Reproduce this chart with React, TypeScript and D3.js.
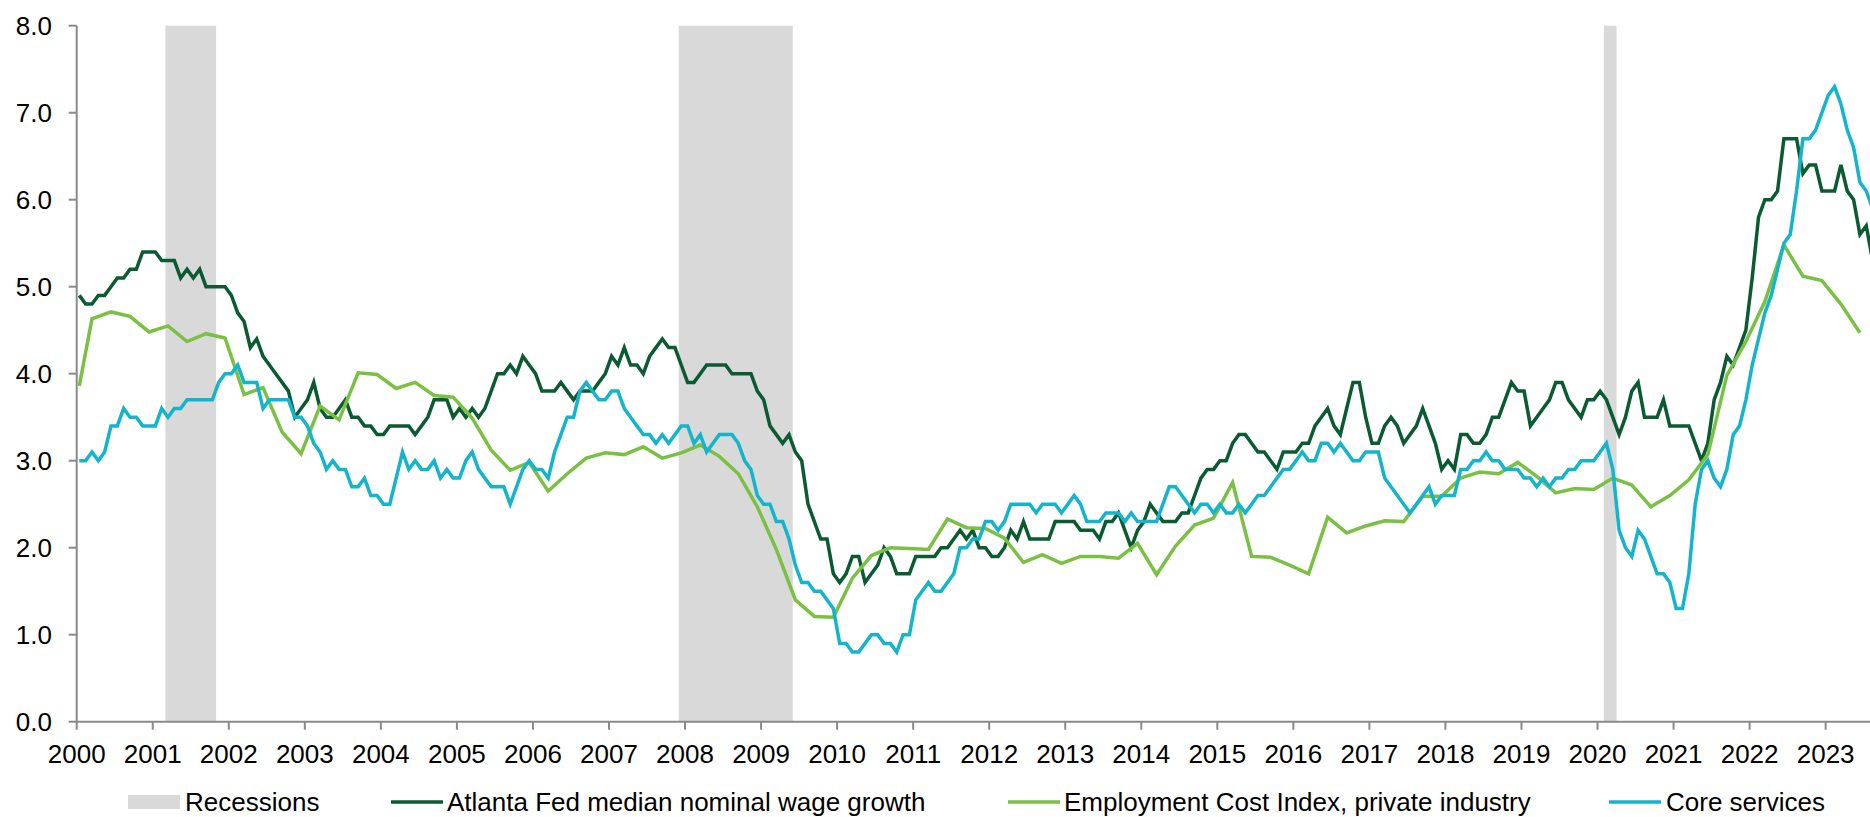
import React from "react";
import * as d3 from "d3";

// ---------- DATA ----------
// Monthly, starting Jan 2000
const atlantaFed: number[] = [
  4.9, 4.8, 4.8, 4.9, 4.9, 5.0, 5.1, 5.1, 5.2, 5.2, 5.4, 5.4,
  5.4, 5.3, 5.3, 5.3, 5.1, 5.2, 5.1, 5.2, 5.0, 5.0, 5.0, 5.0,
  4.9, 4.7, 4.6, 4.3, 4.4, 4.2, 4.1, 4.0, 3.9, 3.8, 3.5, 3.6,
  3.7, 3.9, 3.6, 3.5, 3.5, 3.6, 3.7, 3.5, 3.5, 3.4, 3.4, 3.3,
  3.3, 3.4, 3.4, 3.4, 3.4, 3.3, 3.4, 3.5, 3.7, 3.7, 3.7, 3.5,
  3.6, 3.5, 3.6, 3.5, 3.6, 3.8, 4.0, 4.0, 4.1, 4.0, 4.2, 4.1,
  4.0, 3.8, 3.8, 3.8, 3.9, 3.8, 3.7, 3.8, 3.8, 3.8, 3.9, 4.0,
  4.2, 4.1, 4.3, 4.1, 4.1, 4.0, 4.2, 4.3, 4.4, 4.3, 4.3, 4.1,
  3.9, 3.9, 4.0, 4.1, 4.1, 4.1, 4.1, 4.0, 4.0, 4.0, 4.0, 3.8,
  3.7, 3.4, 3.3, 3.2, 3.3, 3.1, 3.0, 2.5, 2.3, 2.1, 2.1, 1.7,
  1.6, 1.7, 1.9, 1.9, 1.6, 1.7, 1.8, 2.0, 1.9, 1.7, 1.7, 1.7,
  1.9, 1.9, 1.9, 1.9, 2.0, 2.0, 2.1, 2.2, 2.1, 2.2, 2.0, 2.0,
  1.9, 1.9, 2.0, 2.2, 2.1, 2.3, 2.1, 2.1, 2.1, 2.1, 2.3, 2.3,
  2.3, 2.3, 2.2, 2.2, 2.2, 2.1, 2.3, 2.3, 2.4, 2.2, 2.0, 2.2,
  2.3, 2.5, 2.4, 2.3, 2.3, 2.3, 2.4, 2.4, 2.6, 2.8, 2.9, 2.9,
  3.0, 3.0, 3.2, 3.3, 3.3, 3.2, 3.1, 3.1, 3.0, 2.9, 3.1, 3.1,
  3.1, 3.2, 3.2, 3.4, 3.5, 3.6, 3.4, 3.3, 3.6, 3.9, 3.9, 3.5,
  3.2, 3.2, 3.4, 3.5, 3.4, 3.2, 3.3, 3.4, 3.6, 3.4, 3.2, 2.9,
  3.0, 2.9, 3.3, 3.3, 3.2, 3.2, 3.3, 3.5, 3.5, 3.7, 3.9, 3.8,
  3.8, 3.4, 3.5, 3.6, 3.7, 3.9, 3.9, 3.7, 3.6, 3.5, 3.7, 3.7,
  3.8, 3.7, 3.5, 3.3, 3.5, 3.8, 3.9, 3.5, 3.5, 3.5, 3.7, 3.4,
  3.4, 3.4, 3.4, 3.2, 3.0, 3.2, 3.7, 3.9, 4.2, 4.1, 4.3, 4.5,
  5.1, 5.8, 6.0, 6.0, 6.1, 6.7, 6.7, 6.7, 6.3, 6.4, 6.4, 6.1,
  6.1, 6.1, 6.4, 6.1, 6.0, 5.6, 5.7, 5.3,
];

// Monthly, starting Jan 2000
const coreServices: number[] = [
  3.0, 3.0, 3.1, 3.0, 3.1, 3.4, 3.4, 3.6, 3.5, 3.5, 3.4, 3.4,
  3.4, 3.6, 3.5, 3.6, 3.6, 3.7, 3.7, 3.7, 3.7, 3.7, 3.9, 4.0,
  4.0, 4.1, 3.9, 3.9, 3.9, 3.6, 3.7, 3.7, 3.7, 3.7, 3.5, 3.5,
  3.4, 3.2, 3.1, 2.9, 3.0, 2.9, 2.9, 2.7, 2.7, 2.8, 2.6, 2.6,
  2.5, 2.5, 2.8, 3.1, 2.9, 3.0, 2.9, 2.9, 3.0, 2.8, 2.9, 2.8,
  2.8, 3.0, 3.1, 2.9, 2.8, 2.7, 2.7, 2.7, 2.5, 2.7, 2.9, 3.0,
  2.9, 2.9, 2.8, 3.1, 3.3, 3.5, 3.5, 3.8, 3.9, 3.8, 3.7, 3.7,
  3.8, 3.8, 3.6, 3.5, 3.4, 3.3, 3.3, 3.2, 3.3, 3.2, 3.3, 3.4,
  3.4, 3.2, 3.3, 3.1, 3.2, 3.3, 3.3, 3.3, 3.2, 3.0, 2.9, 2.6,
  2.5, 2.5, 2.3, 2.3, 2.1, 1.8, 1.6, 1.6, 1.5, 1.5, 1.4, 1.3,
  0.9, 0.9, 0.8, 0.8, 0.9, 1.0, 1.0, 0.9, 0.9, 0.8, 1.0, 1.0,
  1.4, 1.5, 1.6, 1.5, 1.5, 1.6, 1.7, 2.0, 2.0, 2.1, 2.1, 2.3,
  2.3, 2.2, 2.3, 2.5, 2.5, 2.5, 2.5, 2.4, 2.5, 2.5, 2.5, 2.4,
  2.5, 2.6, 2.5, 2.3, 2.3, 2.3, 2.4, 2.4, 2.4, 2.3, 2.4, 2.3,
  2.3, 2.3, 2.3, 2.5, 2.7, 2.7, 2.6, 2.5, 2.4, 2.5, 2.5, 2.4,
  2.5, 2.4, 2.4, 2.5, 2.4, 2.5, 2.6, 2.6, 2.7, 2.8, 2.9, 2.9,
  3.0, 3.1, 3.0, 3.0, 3.2, 3.2, 3.1, 3.2, 3.1, 3.0, 3.0, 3.1,
  3.1, 3.1, 2.8, 2.7, 2.6, 2.5, 2.4, 2.5, 2.6, 2.7, 2.5, 2.6,
  2.6, 2.6, 2.9, 2.9, 3.0, 3.0, 3.1, 3.0, 3.0, 2.9, 2.9, 2.9,
  2.8, 2.8, 2.7, 2.8, 2.7, 2.8, 2.8, 2.9, 2.9, 3.0, 3.0, 3.0,
  3.1, 3.2, 2.9, 2.2, 2.0, 1.9, 2.2, 2.1, 1.9, 1.7, 1.7, 1.6,
  1.3, 1.3, 1.7, 2.5, 2.9, 3.0, 2.8, 2.7, 2.9, 3.3, 3.4, 3.7,
  4.1, 4.4, 4.7, 4.9, 5.2, 5.5, 5.6, 6.1, 6.7, 6.7, 6.8, 7.0,
  7.2, 7.3, 7.1, 6.8, 6.6, 6.2, 6.1, 5.9,
];

// Employment Cost Index: first monthly point (Jan 2000), then quarterly (Mar, Jun, Sep, Dec) from 2000Q1
const eciJan2000 = 3.86;
const eciQuarterly: number[] = [
  4.63, 4.71, 4.66, 4.48,
  4.55, 4.37, 4.46, 4.41,
  3.76, 3.84, 3.33, 3.08,
  3.63, 3.47, 4.01, 3.99,
  3.83, 3.90, 3.75, 3.73,
  3.49, 3.12, 2.89, 2.98,
  2.65, 2.85, 3.03, 3.09,
  3.07, 3.16, 3.03, 3.09,
  3.18, 3.05, 2.85, 2.47,
  1.98, 1.40, 1.21, 1.20,
  1.65, 1.91, 2.00, 1.99,
  1.98, 2.33, 2.23, 2.22,
  2.11, 1.83, 1.92, 1.82,
  1.90, 1.90, 1.88, 2.05,
  1.69, 2.02, 2.26, 2.34,
  2.75, 1.90, 1.89, 1.80,
  1.70, 2.35, 2.17, 2.25,
  2.31, 2.30, 2.59, 2.59,
  2.80, 2.87, 2.85, 2.98,
  2.82, 2.63, 2.68, 2.67,
  2.80, 2.72, 2.47, 2.60,
  2.78, 3.07, 3.98, 4.37,
  4.83, 5.48, 5.12, 5.07,
  4.80, 4.47,
];

// Recessions (start, end) as fractional years
const recessions: [number, number][] = [
  [2001 + 2 / 12, 2001 + 10 / 12],
  [2007 + 11 / 12, 2009 + 5 / 12],
  [2020 + 1 / 12, 2020 + 3 / 12],
];

const yTicks = [0, 1, 2, 3, 4, 5, 6, 7, 8];
const xTickYears = d3.range(2000, 2024);

const seriesNames = {
  rec: "Recessions",
  atl: "Atlanta Fed median nominal wage growth",
  eci: "Employment Cost Index, private industry",
  core: "Core services",
};

// ---------- STYLE / LAYOUT ----------
const W = 1870;
const H = 817;
const COLORS = {
  atl: "#0a5a32",
  eci: "#7ac143",
  core: "#13b5cc",
  rec: "#d9d9d9",
  axis: "#8a8a8a",
};
const FONT = "'Liberation Sans', Arial, Helvetica, sans-serif";
const MONTH_OFFSET = 0.41;

export default function App() {
  const x = d3.scaleLinear().domain([2000, 2023 + 7 / 12]).range([76.7, 1870]);
  const y = d3.scaleLinear().domain([0, 8]).range([721.7, 25.7]);

  const monthT = (i: number) => 2000 + (i + MONTH_OFFSET) / 12;

  const line = d3
    .line<[number, number]>()
    .x((d) => x(d[0]))
    .y((d) => y(d[1]));

  const atlPts: [number, number][] = atlantaFed.map((v, i) => [monthT(i), v]);
  const corePts: [number, number][] = coreServices.map((v, i) => [monthT(i), v]);
  const eciPts: [number, number][] = [
    [monthT(0), eciJan2000],
    ...eciQuarterly.map((v, q) => [monthT(2 + q * 3), v] as [number, number]),
  ];

  const x0 = x(2000);
  const y0 = y(0);
  const yTop = y(8);

  const legendY = 802;
  const legendItems = [
    { key: "rec", sx: 128, tx: 185 },
    { key: "atl", sx: 391, tx: 447 },
    { key: "eci", sx: 1008, tx: 1064 },
    { key: "core", sx: 1609, tx: 1666 },
  ] as const;

  return (
    <svg
      width={W}
      height={H}
      viewBox={`0 0 ${W} ${H}`}
      style={{ position: "absolute", left: 0, top: 0, background: "#fff" }}
      fontFamily={FONT}
    >
      <rect x={0} y={0} width={W} height={H} fill="#fff" />
      {/* recession bands */}
      {recessions.map(([a, b], i) => (
        <rect key={i} x={x(a)} y={yTop} width={x(b) - x(a)} height={y0 - yTop} fill={COLORS.rec} />
      ))}

      {/* y axis */}
      <line x1={x0} x2={x0} y1={yTop} y2={y0} stroke={COLORS.axis} strokeWidth={2} />
      {yTicks.map((t) => (
        <g key={t}>
          <line x1={x0 - 8} x2={x0} y1={y(t)} y2={y(t)} stroke={COLORS.axis} strokeWidth={2} />
          <text x={52} y={y(t)} textAnchor="end" dominantBaseline="central" fontSize={26} fill="#000">
            {t.toFixed(1)}
          </text>
        </g>
      ))}

      {/* x axis */}
      <line x1={x0} x2={W} y1={y0} y2={y0} stroke={COLORS.axis} strokeWidth={2} />
      {xTickYears.map((yr) => (
        <g key={yr}>
          <line x1={x(yr)} x2={x(yr)} y1={y0} y2={y0 + 8} stroke={COLORS.axis} strokeWidth={2} />
          <text x={x(yr)} y={763} textAnchor="middle" fontSize={26} fill="#000">
            {yr}
          </text>
        </g>
      ))}

      {/* lines */}
      <path d={line(atlPts) || ""} fill="none" stroke={COLORS.atl} strokeWidth={3.5} strokeLinejoin="miter" />
      <path d={line(eciPts) || ""} fill="none" stroke={COLORS.eci} strokeWidth={3.5} strokeLinejoin="miter" />
      <path d={line(corePts) || ""} fill="none" stroke={COLORS.core} strokeWidth={3.5} strokeLinejoin="miter" />

      {/* legend */}
      {legendItems.map((it) => (
        <g key={it.key}>
          {it.key === "rec" ? (
            <rect x={it.sx} y={legendY - 7} width={52} height={14} fill={COLORS.rec} />
          ) : (
            <line
              x1={it.sx}
              x2={it.sx + 52}
              y1={legendY}
              y2={legendY}
              stroke={(COLORS as any)[it.key]}
              strokeWidth={3.5}
            />
          )}
          <text x={it.tx} y={legendY} dominantBaseline="central" fontSize={26} fill="#000">
            {(seriesNames as any)[it.key]}
          </text>
        </g>
      ))}
    </svg>
  );
}
